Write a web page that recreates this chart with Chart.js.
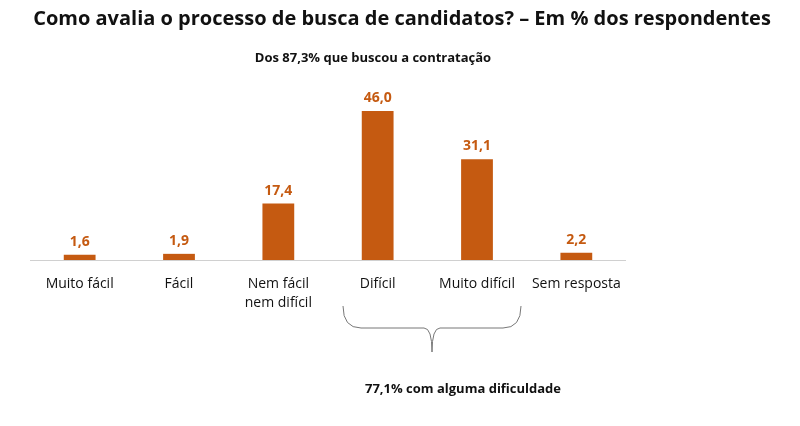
<!DOCTYPE html>
<html><head><meta charset="utf-8">
<script src="https://cdn.jsdelivr.net/npm/chart.js@4/dist/chart.umd.min.js"></script>
<style>html,body{margin:0;background:#fff}#wrap{width:800px;height:426px}</style>
</head><body><div id="wrap"><canvas id="c"></canvas></div>
<script>
const categorias = [['Muito fácil'], ['Fácil'], ['Nem fácil', 'nem difícil'], ['Difícil'], ['Muito difícil'], ['Sem resposta']];
const valores = [1.6, 1.9, 17.4, 46.0, 31.1, 2.2];
const titulo = 'Como avalia o processo de busca de candidatos? – Em % dos respondentes';
const subtitulo = 'Dos 87,3% que buscou a contratação';
const nota = '77,1% com alguma dificuldade';
const cor = '#C55A11';
const fonte = '"Open Sans", Calibri, sans-serif';

// Desenha textos, rótulos, eixo e chave
const extras = {
  id: 'extras',
  afterDraw(chart) {
    const ctx = chart.ctx, x = chart.scales.x, y = chart.scales.y;
    const area = chart.chartArea;
    ctx.save();
    ctx.textAlign = 'center';
    ctx.fillStyle = '#111';
    ctx.font = 'bold 20px ' + fonte;
    ctx.fillText(titulo, 402, 25);
    ctx.font = 'bold 13px ' + fonte;
    ctx.fillText(subtitulo, 373, 62);
    ctx.fillText(nota, 463, 393);

    ctx.strokeStyle = '#d0d0d0';
    ctx.lineWidth = 1;
    ctx.beginPath();
    ctx.moveTo(area.left, y.getPixelForValue(0) + 0.5);
    ctx.lineTo(area.right, y.getPixelForValue(0) + 0.5);
    ctx.stroke();

    chart.getDatasetMeta(0).data.forEach((bar, i) => {
      ctx.fillStyle = cor;
      ctx.font = 'bold 14px ' + fonte;
      ctx.fillText(valores[i].toFixed(1).replace('.', ','), bar.x, bar.y - 9);
      ctx.fillStyle = '#111';
      ctx.font = '14px ' + fonte;
      categorias[i].forEach((l, k) => ctx.fillText(l, x.getPixelForValue(i), 288 + k * 19));
    });

    // chave
    const x0 = 343, x1 = 521, xm = 432, yt = 306, yb = 352;
    ctx.strokeStyle = '#777';
    ctx.beginPath();
    ctx.moveTo(x0, yt);
    ctx.quadraticCurveTo(x0, yt + 22, x0 + 18, yt + 22);
    ctx.lineTo(xm - 8, yt + 22);
    ctx.quadraticCurveTo(xm, yt + 22, xm, yb);
    ctx.quadraticCurveTo(xm, yt + 22, xm + 8, yt + 22);
    ctx.lineTo(x1 - 18, yt + 22);
    ctx.quadraticCurveTo(x1, yt + 22, x1, yt);
    ctx.stroke();
    ctx.restore();
  }
};

new Chart(document.getElementById('c'), {
  type: 'bar',
  data: {
    labels: categorias.map(c => c.join(' ')),
    datasets: [{ data: valores, backgroundColor: cor, categoryPercentage: 0.32, barPercentage: 1 }]
  },
  options: {
    responsive: true,
    maintainAspectRatio: false,
    animation: false,
    layout: { padding: { left: 30, right: 174, top: 98, bottom: 166 } },
    plugins: { legend: { display: false }, tooltip: { enabled: false } },
    scales: {
      x: { display: false },
      y: { display: false, min: 0, max: 50 }
    }
  },
  plugins: [extras]
});
</script></body></html>
